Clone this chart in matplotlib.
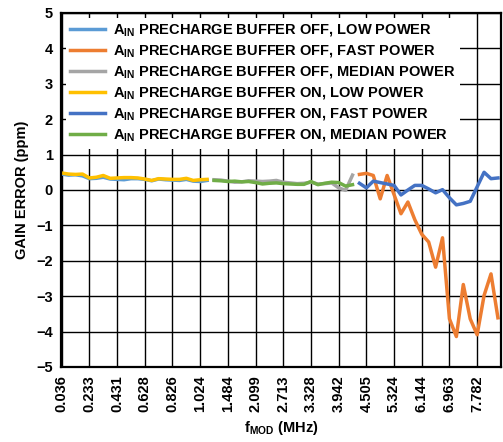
import matplotlib
matplotlib.use("Agg")
import matplotlib.pyplot as plt

plt.rcParams['font.family'] = ['Liberation Sans', 'DejaVu Sans']
plt.rcParams['font.weight'] = 'bold'
plt.rcParams['mathtext.fontset'] = 'custom'
plt.rcParams['mathtext.rm'] = 'Liberation Sans:bold'
plt.rcParams['mathtext.bf'] = 'Liberation Sans:bold'

# sweep points are plotted by index; each power mode covers its own range
low_start, med_start, fast_start = 0, 22, 43

tick_labels = ["0.036", "0.233", "0.431", "0.628", "0.826", "1.024", "1.484", "2.099",
               "2.713", "3.328", "3.942", "4.505", "5.324", "6.144", "6.963", "7.782"]

# gain error (ppm)
off_low = [0.45, 0.42, 0.43, 0.40, 0.32, 0.33, 0.36, 0.31, 0.30, 0.29, 0.32,
           0.32, 0.30, 0.26, 0.31, 0.29, 0.28, 0.27, 0.30, 0.25, 0.24, 0.27]
on_low = [0.48, 0.45, 0.44, 0.45, 0.34, 0.36, 0.41, 0.33, 0.34, 0.35, 0.35,
          0.34, 0.31, 0.27, 0.32, 0.31, 0.30, 0.30, 0.33, 0.27, 0.29, 0.30]
off_med = [0.29, 0.28, 0.25, 0.22, 0.23, 0.26, 0.25, 0.24, 0.25, 0.27, 0.22,
           0.20, 0.18, 0.19, 0.22, 0.17, 0.18, 0.20, 0.06, -0.01, 0.42]
on_med = [0.27, 0.26, 0.24, 0.25, 0.23, 0.24, 0.21, 0.17, 0.19, 0.20, 0.18,
          0.17, 0.16, 0.16, 0.24, 0.15, 0.19, 0.22, 0.21, 0.11, 0.15]
off_fast = [0.44, 0.47, 0.41, -0.25, 0.41, -0.13, -0.67, -0.34, -0.84, -1.25, -1.47,
            -2.18, -1.35, -3.64, -4.14, -2.67, -3.64, -4.09, -2.98, -2.37, -3.61]
on_fast = [0.19, 0.06, 0.25, 0.21, 0.17, 0.13, -0.14, 0.00, 0.13, 0.13, 0.03,
           -0.08, 0.01, -0.22, -0.42, -0.38, -0.32, 0.09, 0.50, 0.32, 0.34]

series = [
    (low_start, off_low, "#5B9BD5", "OFF, LOW POWER"),
    (fast_start, off_fast, "#ED7D31", "OFF, FAST POWER"),
    (med_start, off_med, "#A5A5A5", "OFF, MEDIAN POWER"),
    (low_start, on_low, "#FFC000", "ON, LOW POWER"),
    (fast_start, on_fast, "#4472C4", "ON, FAST POWER"),
    (med_start, on_med, "#70AD47", "ON, MEDIAN POWER"),
]

fig = plt.figure(figsize=(5.03, 4.42), dpi=100)
ax = fig.add_axes([0.1213, 0.1697, 0.8741, 0.8009])

for start, vals, color, name in series:
    xs = list(range(start, start + len(vals)))
    ax.plot(xs, vals, color=color, lw=2.5,
            label=r"A$_{\mathbf{IN}}$ PRECHARGE BUFFER " + name)

ax.set_xlim(-0.1, 63.4)
ax.set_ylim(-5, 5)
ax.set_xticks(range(0, 4 * len(tick_labels), 4))
ax.set_xticklabels(tick_labels, rotation=90, fontsize=10.5, fontweight='bold')
ax.set_yticks(range(-5, 6))
ax.set_yticklabels([str(v).replace('-', '\u2212') for v in range(-5, 6)],
                   fontsize=10.5, fontweight='bold')
ax.tick_params(length=0, pad=6)
ax.grid(True, color='black', lw=1.0)
for s in ax.spines.values():
    s.set_linewidth(1.6)

ax.set_ylabel("GAIN ERROR (ppm)", fontsize=10.5, fontweight='bold', labelpad=5)
ax.set_xlabel(r"f$_{\mathbf{MOD}}$ (MHz)", fontsize=10.5, fontweight='bold', labelpad=5)

leg = ax.legend(loc='upper left', frameon=True, fontsize=10.5, handlelength=2.4,
                handletextpad=0.5, labelspacing=0.32, borderaxespad=0.35,
                borderpad=0.3, fancybox=False, facecolor='white',
                edgecolor='none', framealpha=1.0)
for t in leg.get_texts():
    t.set_fontweight('bold')

fig.savefig("out.png", dpi=100)
